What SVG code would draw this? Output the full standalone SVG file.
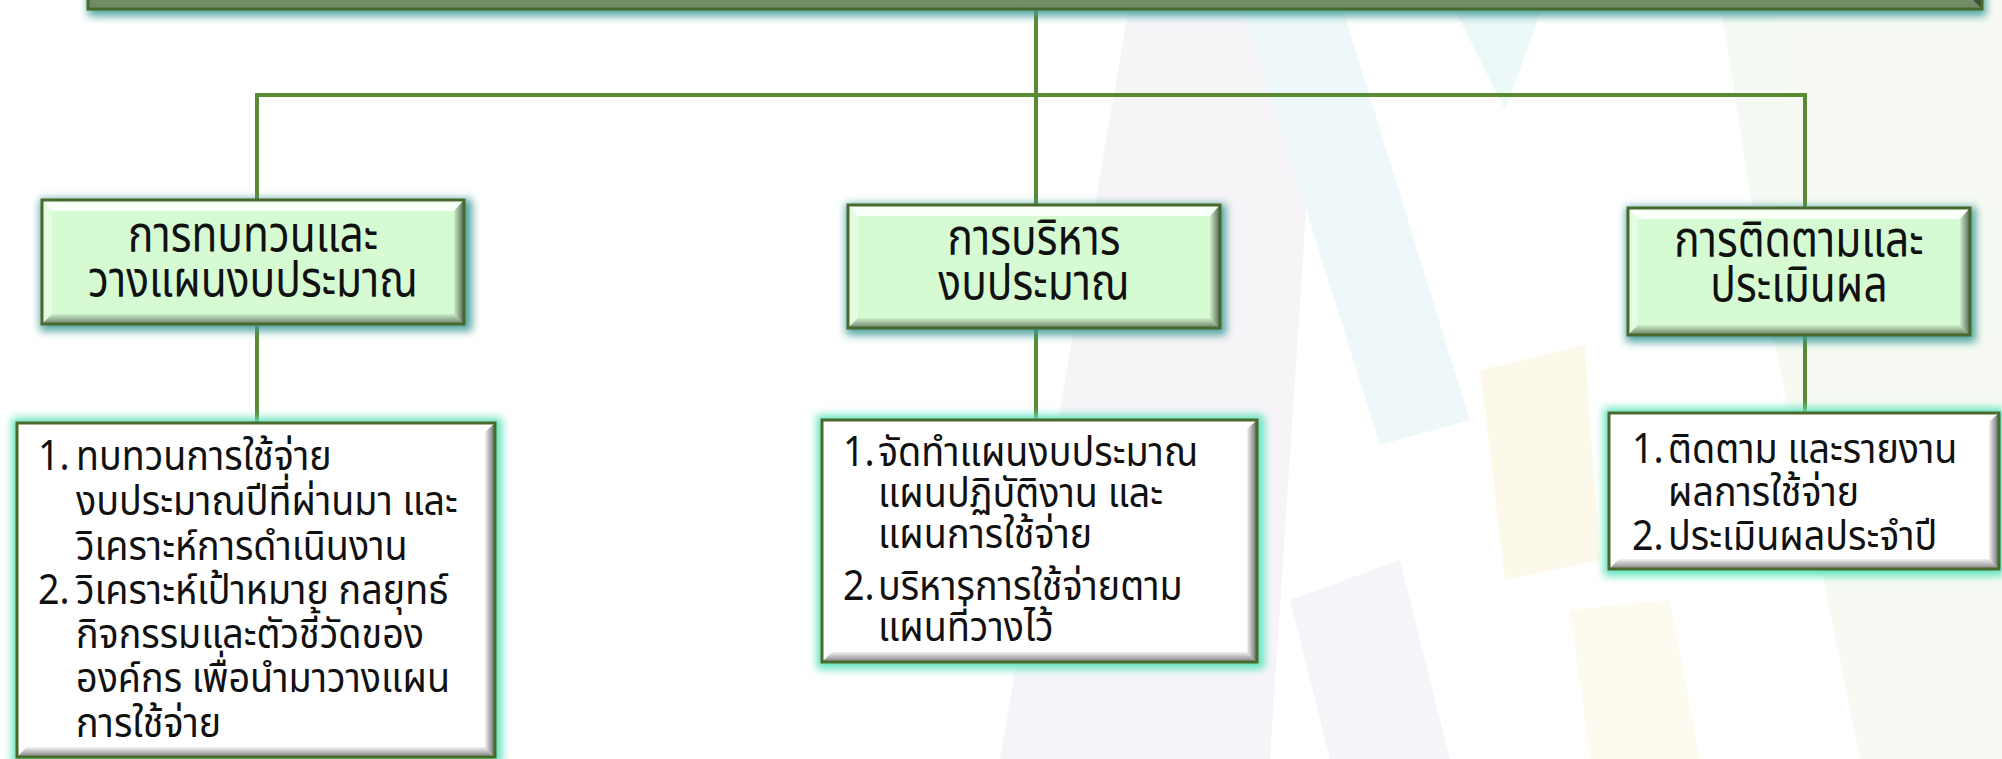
<svg xmlns="http://www.w3.org/2000/svg" width="2002" height="759" viewBox="0 0 2002 759">
  <defs>
    <style>
      .conn { stroke: #5b8a34; stroke-width: 4; fill: none; }
      .main-fill { fill: #d6fbd3; }
      .det-fill { fill: #ffffff; }
      .frame { fill: none; stroke: #4a6a2c; stroke-width: 3; }
      .hl-top { fill: #ffffff; opacity: 0.85; }
      .hl-left { fill: #ffffff; opacity: 0.35; }
      .sh-right { fill: url(#gRight); }
      .sh-bottom { fill: url(#gBottom); }
      .glow-main { fill: #3a9a95; filter: url(#blur); opacity: 0.9; }
      .glow-det { fill: #5ee3bd; filter: url(#blur); opacity: 1; }
      .t-main { font-family: "Noto Sans", "Noto Sans Thai", "DejaVu Sans", sans-serif; font-size: 50px; fill: #111; text-anchor: middle; }
      .t-det { font-family: "Noto Sans", "Noto Sans Thai", "DejaVu Sans", sans-serif; font-size: 41px; fill: #111; }
      .bg { opacity: 0.4; }
    </style>
    <linearGradient id="gRight" x1="0" y1="0" x2="1" y2="0">
      <stop offset="0" stop-color="#000" stop-opacity="0.05"/>
      <stop offset="1" stop-color="#000" stop-opacity="0.6"/>
    </linearGradient>
    <linearGradient id="gBottom" x1="0" y1="0" x2="0" y2="1">
      <stop offset="0" stop-color="#000" stop-opacity="0.05"/>
      <stop offset="1" stop-color="#000" stop-opacity="0.5"/>
    </linearGradient>
    <linearGradient id="gTop" x1="0" y1="0" x2="0" y2="1">
      <stop offset="0" stop-color="#8fa985"/>
      <stop offset="1" stop-color="#6d8a62"/>
    </linearGradient>
    <filter id="blur" x="-10%" y="-20%" width="120%" height="140%">
      <feGaussianBlur stdDeviation="4.5"/>
    </filter>
  </defs>

  <rect x="0" y="0" width="2002" height="759" fill="#ffffff"/>

  <!-- faint background watermark -->
  <g id="background" class="bg">
    <polygon points="1130,0 1320,0 1270,759 1000,759" fill="#ece4f0"/>
    <polygon points="1240,0 1340,0 1470,420 1380,445" fill="#d6f0f3"/>
    <polygon points="1450,0 1545,0 1505,110" fill="#d3eef1"/>
    <polygon points="1480,370 1585,345 1600,560 1505,580" fill="#fcf2cc"/>
    <polygon points="1720,0 2002,0 2002,759 1860,759 1770,320" fill="#e8f2e2"/>
    <polygon points="1290,600 1400,560 1450,759 1330,759" fill="#ece6f1"/>
    <polygon points="1570,610 1670,600 1700,759 1590,759" fill="#fbf3db"/>
  </g>

  <!-- connectors -->
  <g id="connectors">
    <path class="conn" d="M1036,8 V420"/>
    <path class="conn" d="M257,95 H1805"/>
    <path class="conn" d="M257,93 V200"/>
    <path class="conn" d="M257,324 V423"/>
    <path class="conn" d="M1805,93 V208"/>
    <path class="conn" d="M1805,335 V413"/>
  </g>

  <!-- top bar -->
  <g id="top-bar">
    <rect class="glow-main" x="88" y="-40" width="1898" height="56"/>
    <rect x="88" y="-60" width="1894" height="69" fill="url(#gTop)"/>
    <polygon points="1982,-60 1982,9 1974,1 1974,-60" fill="#000" opacity="0.45"/>
    <rect class="frame" x="88" y="-60" width="1894" height="69"/>
  </g>

  <!-- main boxes -->
  <g id="box-plan">
    <rect class="glow-main" x="40" y="199" width="432" height="132"/>
    <rect class="main-fill" x="42" y="200" width="422" height="124"/>
    <polygon class="hl-top" points="42,200 464,200 454,211 52,211"/>
    <polygon class="hl-left" points="42,200 52,211 52,314 42,324"/>
    <polygon class="sh-right" points="464,200 464,324 454,314 454,211"/>
    <polygon class="sh-bottom" points="42,324 464,324 454,314 52,314"/>
    <rect class="frame" x="42" y="200" width="422" height="124"/>
    <g transform="translate(253,0) scale(0.85,1)">
      <text class="t-main" x="0" y="252">การทบทวนและ</text>
      <text class="t-main" x="0" y="297">วางแผนงบประมาณ</text>
    </g>
  </g>

  <g id="box-manage">
    <rect class="glow-main" x="846" y="204" width="380" height="131"/>
    <rect class="main-fill" x="848" y="205" width="372" height="123"/>
    <polygon class="hl-top" points="848,205 1220,205 1210,216 858,216"/>
    <polygon class="hl-left" points="848,205 858,216 858,318 848,328"/>
    <polygon class="sh-right" points="1220,205 1220,328 1210,318 1210,216"/>
    <polygon class="sh-bottom" points="848,328 1220,328 1210,318 858,318"/>
    <rect class="frame" x="848" y="205" width="372" height="123"/>
    <g transform="translate(1034,0) scale(0.85,1)">
      <text class="t-main" x="0" y="255">การบริหาร</text>
      <text class="t-main" x="0" y="300">งบประมาณ</text>
    </g>
  </g>

  <g id="box-monitor">
    <rect class="glow-main" x="1626" y="207" width="350" height="135"/>
    <rect class="main-fill" x="1628" y="208" width="342" height="127"/>
    <polygon class="hl-top" points="1628,208 1970,208 1960,219 1638,219"/>
    <polygon class="hl-left" points="1628,208 1638,219 1638,325 1628,335"/>
    <polygon class="sh-right" points="1970,208 1970,335 1960,325 1960,219"/>
    <polygon class="sh-bottom" points="1628,335 1970,335 1960,325 1638,325"/>
    <rect class="frame" x="1628" y="208" width="342" height="127"/>
    <g transform="translate(1799,0) scale(0.85,1)">
      <text class="t-main" x="0" y="257">การติดตามและ</text>
      <text class="t-main" x="0" y="302">ประเมินผล</text>
    </g>
  </g>

  <!-- detail boxes -->
  <g id="detail-plan">
    <rect class="glow-det" x="12" y="418" width="490" height="346"/>
    <rect class="det-fill" x="17" y="423" width="478" height="334"/>
    <polygon class="hl-top" points="17,423 495,423 485,432 27,432"/>
    <polygon class="sh-right" points="495,423 495,757 485,747 485,432"/>
    <polygon class="sh-bottom" points="17,757 495,757 485,747 27,747"/>
    <rect class="frame" x="17" y="423" width="478" height="334"/>
    <g transform="translate(38,0) scale(0.92,1)">
      <text class="t-det" x="0" y="470">1.</text>
      <text class="t-det" x="41.3" y="470">ทบทวนการใช้จ่าย</text>
      <text class="t-det" x="41.3" y="515">งบประมาณปีที่ผ่านมา และ</text>
      <text class="t-det" x="41.3" y="560">วิเคราะห์การดำเนินงาน</text>
      <text class="t-det" x="0" y="604">2.</text>
      <text class="t-det" x="41.3" y="604">วิเคราะห์เป้าหมาย กลยุทธ์</text>
      <text class="t-det" x="41.3" y="648">กิจกรรมและตัวชี้วัดของ</text>
      <text class="t-det" x="41.3" y="692">องค์กร เพื่อนำมาวางแผน</text>
      <text class="t-det" x="41.3" y="737">การใช้จ่าย</text>
    </g>
  </g>

  <g id="detail-manage">
    <rect class="glow-det" x="817" y="415" width="447" height="254"/>
    <rect class="det-fill" x="822" y="420" width="435" height="242"/>
    <polygon class="hl-top" points="822,420 1257,420 1247,429 832,429"/>
    <polygon class="sh-right" points="1257,420 1257,662 1247,652 1247,429"/>
    <polygon class="sh-bottom" points="822,662 1257,662 1247,652 832,652"/>
    <rect class="frame" x="822" y="420" width="435" height="242"/>
    <g transform="translate(843,0) scale(0.92,1)">
      <text class="t-det" x="0" y="466">1.</text>
      <text class="t-det" x="38" y="466">จัดทำแผนงบประมาณ</text>
      <text class="t-det" x="38" y="507">แผนปฏิบัติงาน และ</text>
      <text class="t-det" x="38" y="548">แผนการใช้จ่าย</text>
      <text class="t-det" x="0" y="600">2.</text>
      <text class="t-det" x="38" y="600">บริหารการใช้จ่ายตาม</text>
      <text class="t-det" x="38" y="641">แผนที่วางไว้</text>
    </g>
  </g>

  <g id="detail-monitor">
    <rect class="glow-det" x="1604" y="408" width="400" height="168"/>
    <rect class="det-fill" x="1609" y="413" width="390" height="156"/>
    <polygon class="hl-top" points="1609,413 1999,413 1989,422 1619,422"/>
    <polygon class="sh-right" points="1999,413 1999,569 1989,559 1989,422"/>
    <polygon class="sh-bottom" points="1609,569 1999,569 1989,559 1619,559"/>
    <rect class="frame" x="1609" y="413" width="390" height="156"/>
    <g transform="translate(1632,0) scale(0.92,1)">
      <text class="t-det" x="0" y="463">1.</text>
      <text class="t-det" x="39.1" y="463">ติดตาม และรายงาน</text>
      <text class="t-det" x="39.1" y="506">ผลการใช้จ่าย</text>
      <text class="t-det" x="0" y="550">2.</text>
      <text class="t-det" x="39.1" y="550">ประเมินผลประจำปี</text>
    </g>
  </g>
</svg>
